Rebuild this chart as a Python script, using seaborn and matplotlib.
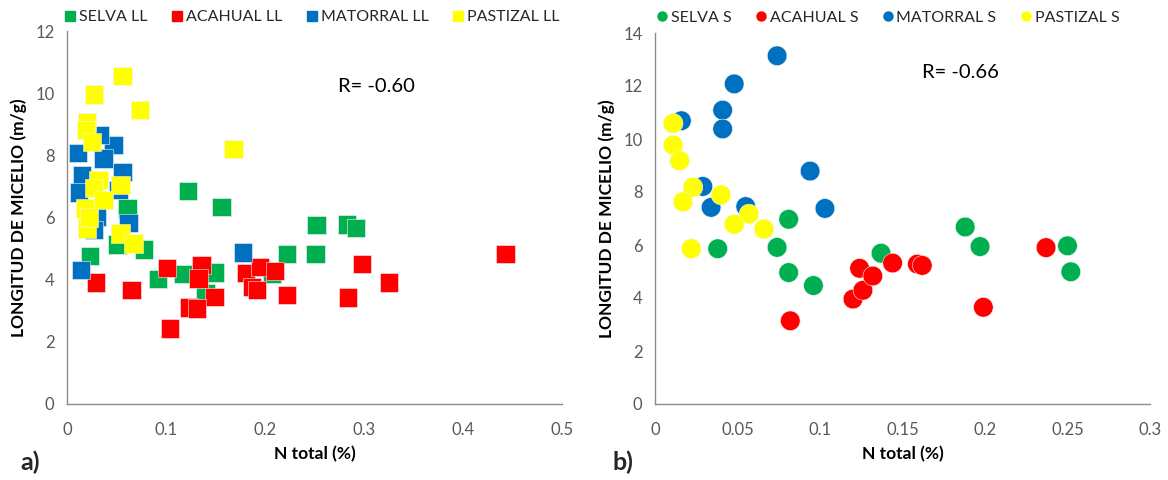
import numpy as np
import pandas as pd
import matplotlib
matplotlib.use("Agg")
import matplotlib.pyplot as plt
from matplotlib.lines import Line2D
from matplotlib.ticker import FuncFormatter, MultipleLocator
import seaborn as sns

# ---- Panel a) : hojarasca (LL) ----
selva_ll_x = [0.122, 0.156, 0.061, 0.023, 0.051, 0.078, 0.092, 0.117, 0.149, 0.140,
              0.207, 0.222, 0.252, 0.251, 0.283, 0.292]
selva_ll_y = [6.86, 6.33, 6.29, 4.76, 5.13, 4.97, 4.03, 4.19, 4.23, 3.58,
              4.20, 4.82, 5.75, 4.82, 5.78, 5.67]

acahual_ll_x = [0.029, 0.065, 0.101, 0.104, 0.136, 0.133, 0.149, 0.123, 0.131, 0.181,
                0.195, 0.210, 0.187, 0.192, 0.222, 0.298, 0.325, 0.284, 0.443]
acahual_ll_y = [3.91, 3.67, 4.37, 2.43, 4.47, 4.04, 3.45, 3.11, 3.07, 4.22,
                4.41, 4.28, 3.77, 3.67, 3.50, 4.51, 3.91, 3.43, 4.83]

matorral_ll_x = [0.178, 0.014, 0.062, 0.047, 0.033, 0.011, 0.037, 0.056, 0.015, 0.030,
                 0.027, 0.052, 0.012]
matorral_ll_y = [4.87, 4.31, 5.83, 8.33, 8.65, 8.08, 7.90, 7.47, 7.36, 6.03,
                 5.59, 6.88, 6.80]

pastizal_ll_x = [0.056, 0.027, 0.074, 0.020, 0.019, 0.025, 0.168, 0.032, 0.054, 0.027,
                 0.037, 0.018, 0.020, 0.054, 0.067, 0.022]
pastizal_ll_y = [10.55, 9.96, 9.45, 9.06, 8.81, 8.43, 8.20, 7.20, 7.05, 6.95,
                 6.56, 6.29, 5.65, 5.49, 5.16, 6.00]

# ---- Panel b) : suelo (S) ----
selva_s_x = [0.081, 0.038, 0.074, 0.081, 0.096, 0.137, 0.188, 0.197, 0.250, 0.252]
selva_s_y = [6.97, 5.86, 5.91, 4.96, 4.47, 5.69, 6.68, 5.94, 5.97, 4.99]

acahual_s_x = [0.082, 0.120, 0.126, 0.124, 0.132, 0.144, 0.159, 0.162, 0.199, 0.237]
acahual_s_y = [3.14, 3.96, 4.29, 5.12, 4.83, 5.32, 5.28, 5.23, 3.65, 5.90]

matorral_s_x = [0.074, 0.048, 0.041, 0.041, 0.016, 0.094, 0.103, 0.029, 0.034, 0.055]
matorral_s_y = [13.14, 12.08, 11.09, 10.38, 10.69, 8.79, 7.38, 8.21, 7.42, 7.45]

pastizal_s_x = [0.011, 0.011, 0.015, 0.023, 0.017, 0.040, 0.057, 0.048, 0.066, 0.022]
pastizal_s_y = [10.59, 9.77, 9.18, 8.18, 7.63, 7.89, 7.17, 6.78, 6.60, 5.86]

labels_ll = ["SELVA LL", "ACAHUAL LL", "MATORRAL LL", "PASTIZAL LL"]
labels_s = ["SELVA S", "ACAHUAL S", "MATORRAL S", "PASTIZAL S"]
colors = ["#00B050", "#FF0000", "#0070C0", "#FFFF00"]

r_ll = "R= -0.60"
r_s = "R= -0.66"


def build_frame(xs, ys, names):
    parts = []
    for x, y, n in zip(xs, ys, names):
        parts.append(pd.DataFrame({"N": x, "L": y, "grupo": n}))
    return pd.concat(parts, ignore_index=True)


df_ll = build_frame([selva_ll_x, acahual_ll_x, matorral_ll_x, pastizal_ll_x],
                    [selva_ll_y, acahual_ll_y, matorral_ll_y, pastizal_ll_y], labels_ll)
df_s = build_frame([selva_s_x, acahual_s_x, matorral_s_x, pastizal_s_x],
                   [selva_s_y, acahual_s_y, matorral_s_y, pastizal_s_y], labels_s)

sns.set_theme(style="white")
plt.rcParams["font.family"] = ["Lato", "DejaVu Sans"]

fig = plt.figure(figsize=(11.68, 4.8), dpi=100)
ax1 = fig.add_axes([67 / 1168, 1 - 404 / 480, 495 / 1168, 373 / 480])
ax2 = fig.add_axes([655 / 1168, 1 - 404 / 480, 495 / 1168, 371 / 480])

spine_col = "#8C8C8C"
tick_col = "#595959"


def style_axis(ax, xmax, xstep, ymax, ystep):
    ax.set_xlim(0, xmax)
    ax.set_ylim(0, ymax)
    ax.xaxis.set_major_locator(MultipleLocator(xstep))
    ax.yaxis.set_major_locator(MultipleLocator(ystep))
    ax.xaxis.set_major_formatter(FuncFormatter(lambda v, p: f"{v:g}"))
    ax.yaxis.set_major_formatter(FuncFormatter(lambda v, p: f"{v:g}"))
    for s in ["top", "right"]:
        ax.spines[s].set_visible(False)
    for s in ["left", "bottom"]:
        ax.spines[s].set_color(spine_col)
        ax.spines[s].set_linewidth(1.0)
    ax.tick_params(axis="both", direction="out", length=5, width=1, color=spine_col,
                   labelsize=12, labelcolor=tick_col, pad=4)
    ax.tick_params(axis="x", pad=8)
    ax.set_xlabel("N total (%)", fontsize=12.5, fontweight="bold", color="black", labelpad=6)
    ax.set_ylabel("LONGITUD DE MICELIO (m/g)", fontsize=12.5, fontweight="bold",
                  color="black", labelpad=6)
    ax.grid(False)


sns.scatterplot(data=df_ll, x="N", y="L", hue="grupo", hue_order=labels_ll,
                palette=colors, marker="s", s=175, linewidth=0.4,
                edgecolor="#f4f4f4", alpha=1, legend=False, ax=ax1)
sns.scatterplot(data=df_s, x="N", y="L", hue="grupo", hue_order=labels_s,
                palette=colors, marker="o", s=200, linewidth=0.4,
                edgecolor="#f4f4f4", alpha=1, legend=False, ax=ax2)

style_axis(ax1, 0.5, 0.1, 12, 2)
style_axis(ax2, 0.3, 0.05, 14, 2)

h_ll = [Line2D([], [], marker="s", linestyle="", color=c, markersize=6.5) for c in colors]
h_s = [Line2D([], [], marker="o", linestyle="", color=c, markersize=6.5) for c in colors]
ax1.legend(h_ll, labels_ll, loc="center left", bbox_to_anchor=(-0.003, 1.037), ncol=4,
           frameon=False, fontsize=11.5, handlelength=0.6, handletextpad=0.25,
           columnspacing=1.55, borderaxespad=0, borderpad=0)
ax2.legend(h_s, labels_s, loc="center left", bbox_to_anchor=(0.004, 1.042), ncol=4,
           frameon=False, fontsize=11.5, handlelength=0.6, handletextpad=0.25,
           columnspacing=1.55, borderaxespad=0, borderpad=0)

ax1.text(0.274, 10.2, r_ll, fontsize=14.5, color="black", ha="left", va="center")
ax2.text(0.162, 12.5, r_s, fontsize=14.5, color="black", ha="left", va="center")

fig.text(20 / 1168, 1 - 462 / 480, "a)", fontsize=18, fontweight="bold", va="center")
fig.text(612 / 1168, 1 - 462 / 480, "b)", fontsize=18, fontweight="bold", va="center")

fig.savefig("out.png", dpi=100)
